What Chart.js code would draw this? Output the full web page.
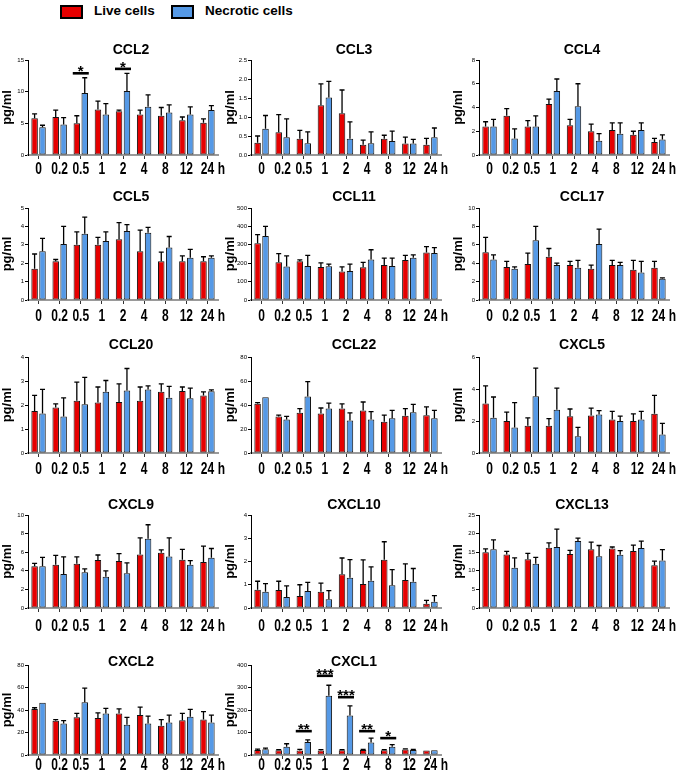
<!DOCTYPE html>
<html>
<head>
<meta charset="utf-8">
<script src="https://cdn.jsdelivr.net/npm/chart.js@4.4.1/dist/chart.umd.min.js"></script>
<style>
  body { margin: 0; background: #fff; }
  #wrap { position: relative; width: 685px; height: 776px; overflow: hidden; font-family: "Liberation Sans", Arial, sans-serif; }
  #wrap canvas { position: absolute; }
  .box { position: absolute; top: 5px; width: 19px; height: 10px; border: 2px solid #000; }
  .leg { position: absolute; top: 2px; font-size: 13.5px; font-weight: bold; line-height: 18px; color: #000; }
</style>
</head>
<body>
<div id="wrap">
  <div class="box" style="left:60px;background:#e60000"></div>
  <div class="leg" style="left:94px">Live cells</div>
  <div class="box" style="left:171px;background:#5599e6"></div>
  <div class="leg" style="left:205px">Necrotic cells</div>
</div>
<script>
// time points (x axis)
const timeLabels = ["0", "0.2", "0.5", "1", "2", "4", "8", "12", "24"];
const hourUnit = "h";

// values: bar height and top of error bar
const ccl2Live = [5.8, 6.0, 5.0, 7.2, 6.9, 6.4, 6.2, 5.5, 5.1];
const ccl2LiveTop = [6.5, 7.1, 6.2, 8.5, 7.1, 7.1, 7.5, 6.0, 5.7];
const ccl2Necro = [4.4, 4.8, 9.8, 6.4, 10.1, 7.6, 6.7, 6.4, 7.1];
const ccl2NecroTop = [4.7, 5.9, 12.2, 8.1, 12.9, 9.5, 7.9, 7.6, 7.8];
const ccl2Stars = [["0.5", 12.9, "*"], ["2", 13.6, "*"]];

const ccl3Live = [0.32, 0.6, 0.43, 1.31, 1.1, 0.27, 0.43, 0.3, 0.27];
const ccl3LiveTop = [0.5, 1.06, 0.65, 1.87, 1.71, 0.39, 0.52, 0.47, 0.44];
const ccl3Necro = [0.69, 0.47, 0.31, 1.51, 0.43, 0.31, 0.37, 0.3, 0.47];
const ccl3NecroTop = [1.04, 0.95, 0.61, 1.94, 0.87, 0.61, 0.63, 0.41, 0.71];

const ccl4Live = [2.4, 3.3, 2.4, 4.3, 2.5, 2.0, 2.1, 1.7, 1.1];
const ccl4LiveTop = [2.8, 3.9, 2.9, 4.7, 3.0, 2.6, 2.7, 2.0, 1.4];
const ccl4Necro = [2.4, 1.4, 2.4, 5.4, 4.1, 1.2, 1.8, 2.1, 1.3];
const ccl4NecroTop = [3.0, 2.2, 3.3, 6.4, 6.0, 1.8, 2.7, 2.7, 1.7];

const ccl5Live = [1.7, 2.1, 3.0, 3.0, 3.3, 2.65, 2.1, 2.1, 2.1];
const ccl5LiveTop = [2.5, 2.2, 3.7, 3.4, 4.2, 3.8, 2.6, 2.4, 2.35];
const ccl5Necro = [2.65, 3.05, 3.6, 3.2, 3.75, 3.65, 2.85, 2.3, 2.3];
const ccl5NecroTop = [3.35, 4.0, 4.5, 3.7, 4.1, 3.95, 3.45, 2.75, 2.4];

const ccl11Live = [308, 205, 210, 180, 155, 178, 190, 218, 258];
const ccl11LiveTop = [355, 252, 218, 202, 180, 205, 228, 243, 290];
const ccl11Necro = [348, 182, 185, 183, 158, 220, 185, 230, 255];
const ccl11NecroTop = [400, 240, 243, 195, 195, 273, 228, 245, 285];

const ccl17Live = [5.2, 3.6, 3.9, 4.7, 3.8, 3.4, 3.8, 3.3, 3.5];
const ccl17LiveTop = [6.8, 4.2, 5.1, 5.6, 4.2, 3.8, 4.3, 4.3, 4.2];
const ccl17Necro = [4.4, 3.4, 6.5, 3.8, 3.5, 6.1, 3.8, 3.0, 2.3];
const ccl17NecroTop = [4.9, 3.6, 8.0, 4.0, 4.3, 7.7, 4.1, 4.2, 2.4];

const ccl20Live = [1.75, 1.9, 2.18, 2.1, 2.13, 2.18, 2.55, 2.58, 2.4];
const ccl20LiveTop = [2.4, 2.05, 2.95, 2.75, 2.88, 2.75, 2.88, 2.75, 2.55];
const ccl20Necro = [1.65, 1.52, 2.03, 2.55, 2.6, 2.65, 2.3, 2.28, 2.57];
const ccl20NecroTop = [2.65, 2.3, 3.15, 3.02, 3.52, 2.8, 2.78, 2.7, 2.63];

const ccl22Live = [41, 30.5, 33.5, 33, 37, 35.5, 26, 31, 31.5];
const ccl22LiveTop = [42, 31.5, 37, 37.5, 41, 42.5, 31.5, 37, 38.5];
const ccl22Necro = [46.5, 28, 47, 37, 27, 28, 29, 34, 29];
const ccl22NecroTop = [46.5, 30.5, 59.5, 41.5, 33.5, 34.5, 35.5, 40.5, 35.5];

const cxcl5Live = [3.1, 2.0, 1.7, 1.7, 2.3, 2.35, 2.1, 2.0, 2.45];
const cxcl5LiveTop = [4.2, 2.55, 2.2, 2.15, 2.75, 2.8, 2.6, 2.45, 3.6];
const cxcl5Necro = [2.2, 1.6, 3.55, 2.7, 1.05, 2.4, 2.0, 2.1, 1.15];
const cxcl5NecroTop = [3.5, 3.15, 5.3, 4.05, 1.6, 2.65, 2.3, 2.6, 1.85];

const cxcl9Live = [4.5, 4.65, 4.75, 5.15, 5.05, 5.75, 5.95, 5.2, 4.95];
const cxcl9LiveTop = [4.8, 5.65, 5.5, 5.7, 5.85, 7.55, 6.25, 6.3, 6.65];
const cxcl9Necro = [4.5, 3.65, 3.85, 3.35, 3.75, 7.45, 5.55, 4.65, 5.4];
const cxcl9NecroTop = [5.45, 5.5, 4.2, 4.0, 4.85, 8.95, 7.55, 5.1, 6.4];

const cxcl10Live = [0.78, 0.77, 0.52, 0.7, 1.45, 1.03, 2.07, 1.2, 0.18];
const cxcl10LiveTop = [1.15, 1.15, 1.0, 1.07, 2.15, 2.07, 2.85, 1.9, 0.33];
const cxcl10Necro = [0.7, 0.47, 0.73, 0.38, 1.3, 1.17, 0.98, 1.13, 0.27];
const cxcl10NecroTop = [1.05, 0.95, 1.1, 0.75, 2.08, 1.77, 1.65, 1.7, 0.53];

const cxcl13Live = [15, 14.4, 13.1, 16.2, 14.5, 15.8, 16.0, 15.3, 11.5];
const cxcl13LiveTop = [15.9, 15.2, 14.7, 17.5, 15.5, 17.7, 16.4, 16.9, 12.6];
const cxcl13Necro = [15.8, 10.8, 11.9, 16.4, 18.0, 13.9, 14.3, 16.1, 12.8];
const cxcl13NecroTop = [18.3, 13.5, 13.6, 21.2, 18.8, 16.8, 15.4, 18.0, 15.7];

const cxcl2Live = [41, 30.5, 33.5, 33, 37, 35.5, 26, 31, 31.5];
const cxcl2LiveTop = [42, 31.5, 37, 37.5, 41, 42.5, 31.5, 37, 38.5];
const cxcl2Necro = [46.5, 28, 47, 37, 27, 28, 29, 34, 29];
const cxcl2NecroTop = [46.5, 30.5, 59.5, 41.5, 33.5, 34.5, 35.5, 40.5, 35.5];

const cxcl1Live = [22, 21, 20, 20, 21, 22, 21, 24, 20];
const cxcl1LiveTop = [26, 24, 25, 24, 24, 25, 24, 27, 22];
const cxcl1Necro = [26, 37, 58, 263, 176, 56, 37, 22, 21];
const cxcl1NecroTop = [31, 50, 67, 310, 218, 75, 46, 25, 23];
const cxcl1Stars = [["0.5", 106, "**"], ["1", 352, "***"], ["2", 257, "***"], ["4", 106, "**"], ["8", 75, "*"]];

const panels = [
  { name: "CCL2", live: ccl2Live, liveTop: ccl2LiveTop, necro: ccl2Necro, necroTop: ccl2NecroTop, yMax: 15, yStep: 5, stars: ccl2Stars, row: 0, col: 0 },
  { name: "CCL3", live: ccl3Live, liveTop: ccl3LiveTop, necro: ccl3Necro, necroTop: ccl3NecroTop, yMax: 2.5, yStep: 0.5, decimals: 1, row: 0, col: 1 },
  { name: "CCL4", live: ccl4Live, liveTop: ccl4LiveTop, necro: ccl4Necro, necroTop: ccl4NecroTop, yMax: 8, yStep: 2, row: 0, col: 2 },
  { name: "CCL5", live: ccl5Live, liveTop: ccl5LiveTop, necro: ccl5Necro, necroTop: ccl5NecroTop, yMax: 5, yStep: 1, row: 1, col: 0 },
  { name: "CCL11", live: ccl11Live, liveTop: ccl11LiveTop, necro: ccl11Necro, necroTop: ccl11NecroTop, yMax: 500, yStep: 100, row: 1, col: 1 },
  { name: "CCL17", live: ccl17Live, liveTop: ccl17LiveTop, necro: ccl17Necro, necroTop: ccl17NecroTop, yMax: 10, yStep: 2, row: 1, col: 2 },
  { name: "CCL20", live: ccl20Live, liveTop: ccl20LiveTop, necro: ccl20Necro, necroTop: ccl20NecroTop, yMax: 4, yStep: 1, row: 2, col: 0 },
  { name: "CCL22", live: ccl22Live, liveTop: ccl22LiveTop, necro: ccl22Necro, necroTop: ccl22NecroTop, yMax: 80, yStep: 20, row: 2, col: 1 },
  { name: "CXCL5", live: cxcl5Live, liveTop: cxcl5LiveTop, necro: cxcl5Necro, necroTop: cxcl5NecroTop, yMax: 6, yStep: 2, row: 2, col: 2 },
  { name: "CXCL9", live: cxcl9Live, liveTop: cxcl9LiveTop, necro: cxcl9Necro, necroTop: cxcl9NecroTop, yMax: 10, yStep: 2, row: 3, col: 0 },
  { name: "CXCL10", live: cxcl10Live, liveTop: cxcl10LiveTop, necro: cxcl10Necro, necroTop: cxcl10NecroTop, yMax: 4, yStep: 1, row: 3, col: 1 },
  { name: "CXCL13", live: cxcl13Live, liveTop: cxcl13LiveTop, necro: cxcl13Necro, necroTop: cxcl13NecroTop, yMax: 25, yStep: 5, row: 3, col: 2 },
  { name: "CXCL2", live: cxcl2Live, liveTop: cxcl2LiveTop, necro: cxcl2Necro, necroTop: cxcl2NecroTop, yMax: 80, yStep: 20, row: 4, col: 0 },
  { name: "CXCL1", live: cxcl1Live, liveTop: cxcl1LiveTop, necro: cxcl1Necro, necroTop: cxcl1NecroTop, yMax: 400, yStep: 100, stars: cxcl1Stars, row: 4, col: 1 },
];

// page layout (px)
const rowTop = [60, 208, 357, 515, 665];
const rowBottom = [155, 300, 453, 608, 755];
const rowLabelY = [170, 317, 470, 627, 766];
const rowTitleY = [50, 197, 345, 505, 662];
const colX = [28, 251, 479];
const plotW = 190;
const liveColor = "#e60000";
const necroColor = "#5599e6";

// error bars, titles, x labels and significance marks
const panelDeco = {
  id: "panelDeco",
  afterDatasetsDraw(chart) {
    const ctx = chart.ctx;
    const y = chart.scales.y;
    ctx.save();
    ctx.strokeStyle = "#000";
    ctx.lineWidth = 1.3;
    chart.data.datasets.forEach((ds, i) => {
      chart.getDatasetMeta(i).data.forEach((bar, j) => {
        const top = y.getPixelForValue(ds.errTop[j]);
        if (top >= bar.y - 0.5) return;
        ctx.beginPath();
        ctx.moveTo(bar.x, bar.y);
        ctx.lineTo(bar.x, top);
        ctx.moveTo(bar.x - 2.5, top);
        ctx.lineTo(bar.x + 2.5, top);
        ctx.stroke();
      });
    });
    ctx.restore();
  },
  afterDraw(chart, args, opts) {
    const ctx = chart.ctx;
    const x = chart.scales.x;
    const y = chart.scales.y;
    const area = chart.chartArea;
    ctx.save();
    ctx.fillStyle = "#000";

    // title
    ctx.font = "bold 14px 'Liberation Sans', Arial, sans-serif";
    ctx.textAlign = "center";
    ctx.textBaseline = "middle";
    ctx.fillText(opts.title, (area.left + area.right) / 2 + 8, opts.titleY);

    // x labels, condensed bold
    ctx.font = "bold 16px 'Liberation Sans', Arial, sans-serif";
    timeLabels.forEach((t, i) => {
      const px = x.getPixelForValue(i);
      ctx.save();
      ctx.translate(px, opts.labelY);
      ctx.scale(0.75, 1);
      ctx.textAlign = "center";
      ctx.fillText(t, 0, 0);
      if (i === timeLabels.length - 1) {
        const w = ctx.measureText(t).width;
        ctx.textAlign = "left";
        ctx.fillText(hourUnit, w / 2 + 5, 0);
      }
      ctx.restore();
    });

    // significance bars
    (opts.stars || []).forEach(([group, value, mark]) => {
      const px = x.getPixelForValue(timeLabels.indexOf(group));
      const py = y.getPixelForValue(value);
      ctx.fillRect(px - 8, py - 1.3, 16, 2.6);
      ctx.font = "bold 15px 'Liberation Sans', Arial, sans-serif";
      ctx.textAlign = "center";
      ctx.textBaseline = "alphabetic";
      ctx.fillText(mark, px, py + 3);
    });
    ctx.restore();
  },
};

const wrap = document.getElementById("wrap");

panels.forEach((p) => {
  const left = colX[p.col] - 28;
  const top = Math.min(rowTitleY[p.row] - 10, rowTop[p.row] - 6);
  const bottom = rowLabelY[p.row] + 11;
  const w = 28 + plotW + 16;
  const h = bottom - top;
  const canvas = document.createElement("canvas");
  canvas.width = w;
  canvas.height = h;
  canvas.style.left = left + "px";
  canvas.style.top = top + "px";
  canvas.style.width = w + "px";
  canvas.style.height = h + "px";
  wrap.appendChild(canvas);

  const xHeight = h - (rowBottom[p.row] - top);

  new Chart(canvas.getContext("2d"), {
    type: "bar",
    data: {
      labels: timeLabels,
      datasets: [
        { label: "Live cells", data: p.live, errTop: p.liveTop, backgroundColor: liveColor, borderColor: "#111", borderWidth: 1, borderSkipped: false },
        { label: "Necrotic cells", data: p.necro, errTop: p.necroTop, backgroundColor: necroColor, borderColor: "#111", borderWidth: 1, borderSkipped: false },
      ],
    },
    options: {
      responsive: false,
      animation: false,
      devicePixelRatio: 1,
      categoryPercentage: 0.75,
      barPercentage: 0.82,
      layout: { padding: { left: 0, right: w - 28 - plotW, top: rowTop[p.row] - top, bottom: 0 } },
      plugins: {
        legend: { display: false },
        title: { display: false },
        tooltip: { enabled: false },
        panelDeco: {
          title: p.name,
          titleY: rowTitleY[p.row] - top,
          labelY: rowLabelY[p.row] - top,
          stars: p.stars,
        },
      },
      scales: {
        x: {
          grid: { display: true, offset: false, drawOnChartArea: false, drawTicks: true, tickLength: 4, color: "#333" },
          border: { color: "#9a9a9a", width: 2 },
          ticks: { display: false },
          afterFit: (s) => { s.height = xHeight; },
        },
        y: {
          min: 0,
          max: p.yMax,
          ticks: {
            stepSize: p.yStep,
            color: "#000",
            padding: 1,
            font: { size: 6, family: "'Liberation Sans', Arial, sans-serif" },
            callback: (v) => (p.decimals ? v.toFixed(p.decimals) : v),
          },
          grid: { drawOnChartArea: false, tickLength: 3, color: "#000" },
          border: { color: "#000", width: 1 },
          title: { display: true, text: "pg/ml", color: "#000", padding: 0, font: { size: 13, weight: "bold", family: "'Liberation Sans', Arial, sans-serif" } },
          afterFit: (s) => { s.width = 28; },
        },
      },
    },
    plugins: [panelDeco],
  });
});
</script>
</body>
</html>
